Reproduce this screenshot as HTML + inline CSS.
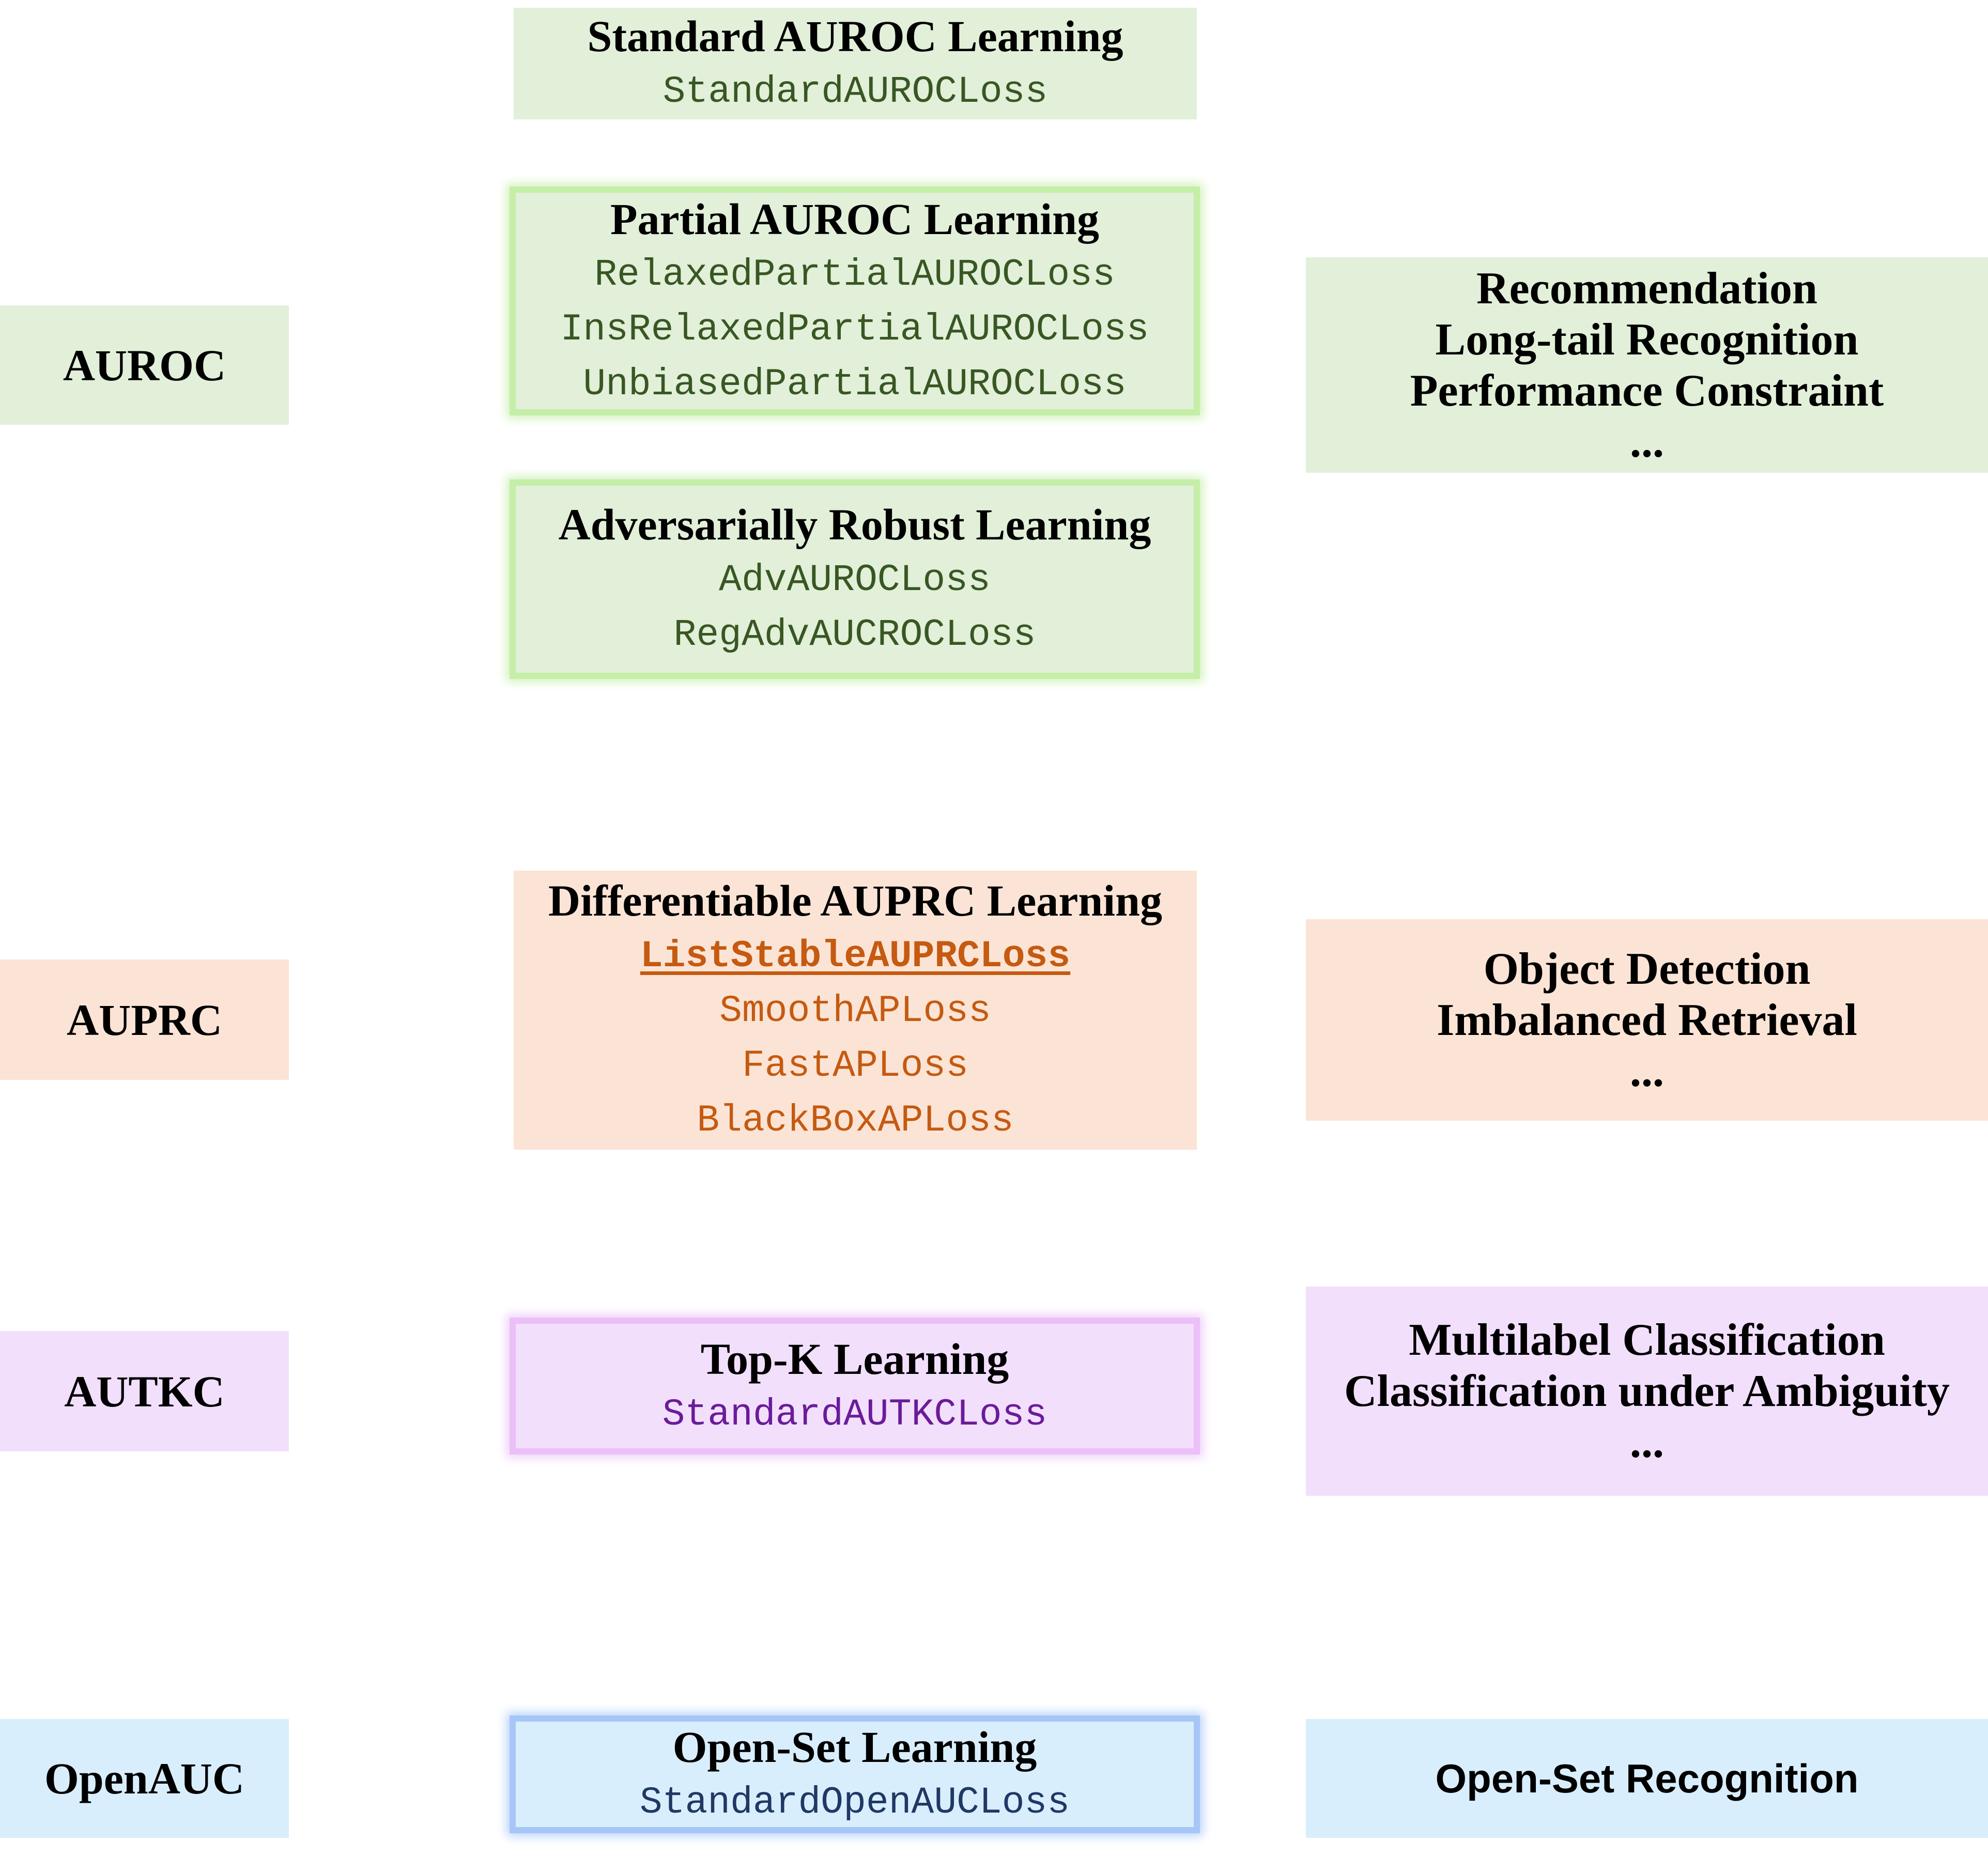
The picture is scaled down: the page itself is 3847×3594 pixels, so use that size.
<!DOCTYPE html>
<html><head><meta charset="utf-8"><style>
html,body{margin:0;padding:0;background:#fff;}
body{width:3847px;height:3594px;position:relative;overflow:hidden;}
.b{position:absolute;box-sizing:border-box;display:flex;flex-direction:column;align-items:center;justify-content:center;text-align:center;}
.h{font-family:"Liberation Serif",serif;font-weight:bold;font-size:86px;line-height:110px;color:#000;}
.r{font-family:"Liberation Serif",serif;font-weight:bold;font-size:88px;line-height:99px;color:#000;}
.m{font-family:"Liberation Mono",monospace;font-size:73px;line-height:106px;}
.g{background:#e2efd9}.o{background:#fbe4d5}.p{background:#f2dffc}.u{background:#d9eefc}
.gg{border:12px solid #c5eea8;box-shadow:0 0 18px 6px #d2f2bb;}
.pg{border:12px solid #ebbff7;box-shadow:0 0 18px 6px #f0cffa;}
.ug{border:12px solid #a6c6f7;box-shadow:0 0 18px 6px #bcd4fa;}
.gt{color:#385723}.ot{color:#c55a11}.pt{color:#6a1b9a}.ut{color:#1f3864}
</style></head><body>
<div class="b g" style="left:0;top:591px;width:559px;height:231px"><div class="h">AUROC</div></div>
<div class="b o" style="left:0;top:1857px;width:559px;height:233px"><div class="h">AUPRC</div></div>
<div class="b p" style="left:0;top:2576px;width:559px;height:233px"><div class="h">AUTKC</div></div>
<div class="b u" style="left:0;top:3327px;width:559px;height:230px"><div class="h">OpenAUC</div></div>

<div class="b g" style="left:994px;top:15px;width:1322px;height:216px"><div class="h">Standard AUROC Learning</div><div class="m gt">StandardAUROCLoss</div></div>
<div class="b g gg" style="left:986px;top:361px;width:1336px;height:443px"><div class="h">Partial AUROC Learning</div><div class="m gt">RelaxedPartialAUROCLoss</div><div class="m gt">InsRelaxedPartialAUROCLoss</div><div class="m gt">UnbiasedPartialAUROCLoss</div></div>
<div class="b g gg" style="left:986px;top:928px;width:1336px;height:386px"><div class="h">Adversarially Robust Learning</div><div class="m gt">AdvAUROCLoss</div><div class="m gt">RegAdvAUCROCLoss</div></div>
<div class="b o" style="left:994px;top:1685px;width:1322px;height:540px"><div class="h">Differentiable AUPRC Learning</div><div class="m ot" style="font-weight:bold;text-decoration:underline;text-underline-offset:10px">ListStableAUPRCLoss</div><div class="m ot">SmoothAPLoss</div><div class="m ot">FastAPLoss</div><div class="m ot">BlackBoxAPLoss</div></div>
<div class="b p pg" style="left:986px;top:2550px;width:1336px;height:265px"><div class="h">Top-K Learning</div><div class="m pt">StandardAUTKCLoss</div></div>
<div class="b u ug" style="left:986px;top:3320px;width:1336px;height:228px"><div class="h">Open-Set Learning</div><div class="m ut">StandardOpenAUCLoss</div></div>

<div class="b g" style="left:2527px;top:498px;width:1320px;height:417px"><div class="r">Recommendation</div><div class="r">Long-tail Recognition</div><div class="r">Performance Constraint</div><div class="r">...</div></div>
<div class="b o" style="left:2527px;top:1779px;width:1320px;height:390px"><div class="r">Object Detection</div><div class="r">Imbalanced Retrieval</div><div class="r">...</div></div>
<div class="b p" style="left:2527px;top:2490px;width:1320px;height:405px"><div class="r">Multilabel Classification</div><div class="r">Classification under Ambiguity</div><div class="r">...</div></div>
<div class="b u" style="left:2527px;top:3327px;width:1320px;height:230px"><div style="font-family:'Liberation Sans',sans-serif;font-size:78px;font-weight:bold;color:#000">Open-Set Recognition</div></div>
</body></html>
